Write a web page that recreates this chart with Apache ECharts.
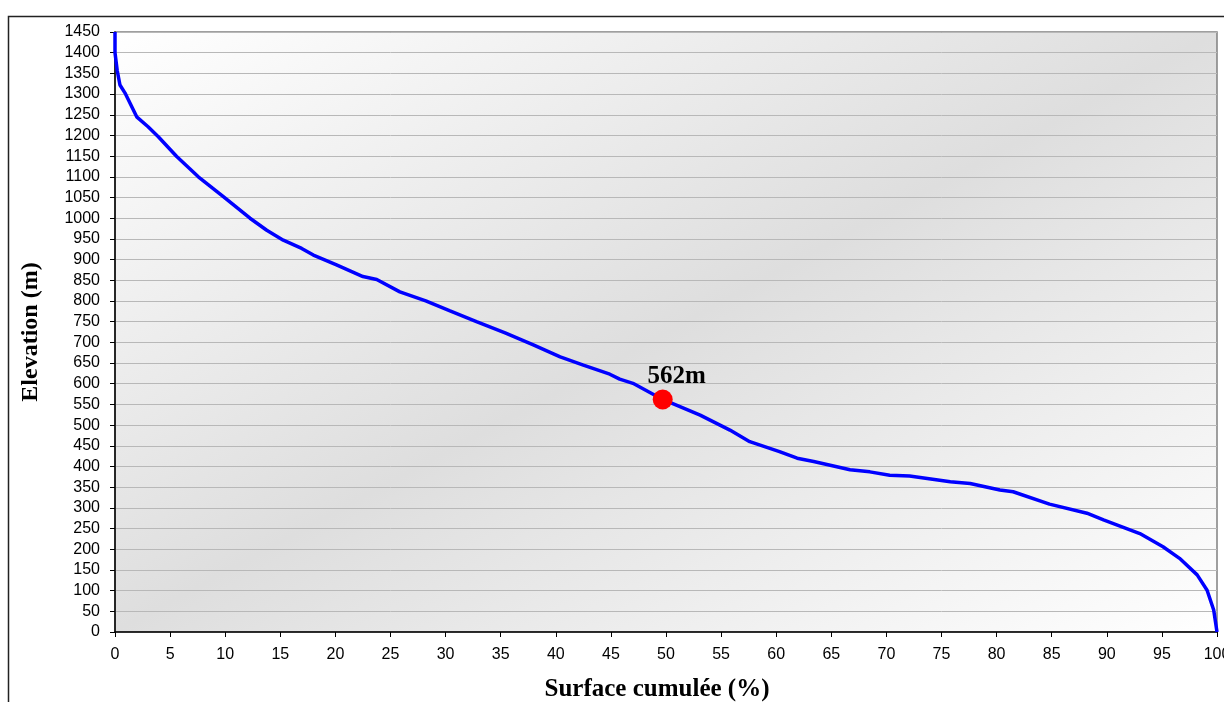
<!DOCTYPE html>
<html>
<head>
<meta charset="utf-8">
<script src="https://cdn.jsdelivr.net/npm/echarts@6/dist/echarts.min.js"></script>
<style>
html,body{margin:0;padding:0;background:#fff;}
#chart{width:1224px;height:702px;}
</style>
</head>
<body>
<div id="chart"></div>
<script>
// Hypsometric curve: cumulative surface (%) vs elevation (m)
const surfacePct = [0, 0, 0.2, 0.45, 0.9, 1.97, 3.0, 3.93, 5.6, 7.56, 9.83, 12.25, 13.77, 15.27, 16.94, 18.0, 20.1, 22.5, 23.75, 25.85, 28.2, 30.4, 32.8, 35.4, 37.96, 40.4, 42.5, 44.9, 45.8, 47.0, 49.7, 53.1, 54.9, 55.8, 57.6, 60.3, 61.9, 63.4, 66.7, 68.5, 70.3, 72.1, 75.8, 77.6, 80.3, 81.5, 84.8, 88.2, 89.7, 93.0, 95.1, 96.6, 98.2, 99.1, 99.7, 100];
const elevationM = [1450, 1400, 1357, 1322, 1303, 1245, 1221, 1197, 1149, 1100, 1052, 1000, 971, 947, 927, 911, 887, 859, 852, 822, 800, 776, 750, 723, 694, 665, 645, 623, 611, 601, 562, 524, 500, 488, 460, 436, 420, 412, 392, 387, 379, 377, 363, 359, 343, 339, 309, 287, 271, 238, 206, 178, 138, 101, 53, 0];
const medianPct = [49.7];
const medianElev = [562];
const medianLabel = ['562m'];

const xTitle = 'Surface cumulée (%)';
const yTitle = 'Elevation (m)';

const curve = surfacePct.map((x, i) => [x, elevationM[i]]);
const medianPts = medianPct.map((x, i) => [x, medianElev[i]]);

const chart = echarts.init(document.getElementById('chart'), null, { renderer: 'canvas' });
chart.setOption({
  animation: false,
  backgroundColor: '#ffffff',
  graphic: [{
    type: 'rect',
    shape: { x: 8.5, y: 16.5, width: 1400, height: 900 },
    style: { fill: 'none', stroke: '#222', lineWidth: 1.5 },
    z: 100
  }],
  grid: {
    left: 115, right: 7, top: 32, bottom: 70,
    outerBoundsMode: 'none',
    containLabel: false,
    show: true,
    borderColor: '#808080',
    borderWidth: 1.5,
    backgroundColor: {
      type: 'linear', x: 0, y: 0, x2: 0.457, y2: 1.543,
      colorStops: [
        { offset: 0, color: '#ffffff' },
        { offset: 0.5, color: '#dedede' },
        { offset: 1, color: '#ffffff' }
      ]
    }
  },
  xAxis: {
    type: 'value', min: 0, max: 100, interval: 5,
    name: xTitle, nameLocation: 'middle', nameGap: 45,
    nameTextStyle: { fontFamily: 'Liberation Serif', fontWeight: 'bold', fontSize: 25, color: '#000', padding: [0, 18, 0, 0] },
    axisLine: { show: true, onZero: false, lineStyle: { color: '#000', width: 1.5 } },
    axisTick: { show: true, inside: false, length: 5, lineStyle: { color: '#000' } },
    axisLabel: { margin: 15, fontFamily: 'Liberation Sans', fontSize: 16, color: '#000', formatter: (v) => String(v) },
    splitLine: { show: false }
  },
  yAxis: {
    type: 'value', min: 0, max: 1450, interval: 50,
    name: yTitle, nameLocation: 'middle', nameGap: 72, nameRotate: 90,
    nameTextStyle: { fontFamily: 'Liberation Serif', fontWeight: 'bold', fontSize: 24, color: '#000' },
    axisLine: { show: true, onZero: false, lineStyle: { color: '#000', width: 1.5 } },
    axisTick: { show: true, inside: false, length: 5, lineStyle: { color: '#000' } },
    axisLabel: { margin: 15, fontFamily: 'Liberation Sans', fontSize: 16, color: '#000', formatter: (v) => String(v) },
    splitLine: { show: true, lineStyle: { color: '#b8b8b8', width: 1 } }
  },
  series: [{
    type: 'line',
    data: curve,
    showSymbol: false,
    symbol: 'none',
    smooth: false,
    lineStyle: { color: '#0000ff', width: 3.5 },
    z: 3
  }, {
    type: 'scatter',
    data: medianPts,
    symbol: 'circle',
    symbolSize: 20,
    itemStyle: { color: '#ff0000', opacity: 1 },
    label: {
      show: true, position: 'top', distance: 0, offset: [14, 0],
      formatter: (p) => medianLabel[p.dataIndex],
      fontFamily: 'Liberation Serif', fontWeight: 'bold', fontSize: 25, color: '#000'
    },
    z: 4
  }]
});
</script>
</body>
</html>
